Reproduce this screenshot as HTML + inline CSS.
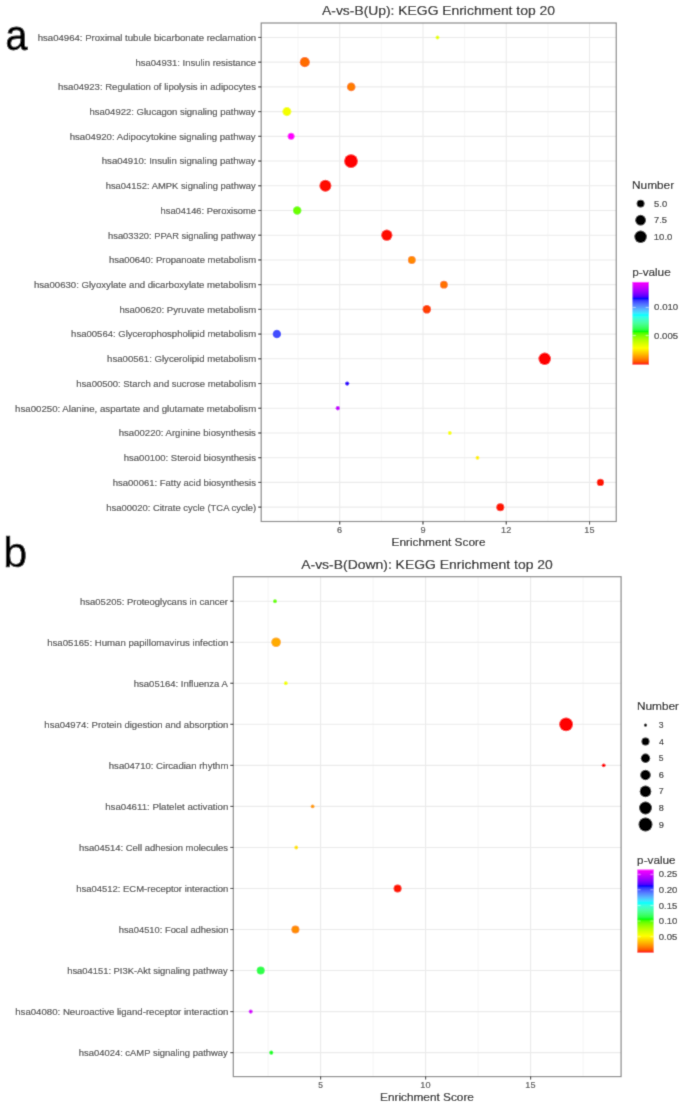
<!DOCTYPE html>
<html><head><meta charset="utf-8"><style>
html,body{margin:0;padding:0;background:#fff;}
svg{display:block;font-family:"Liberation Sans",sans-serif;}
</style></head><body>
<svg width="685" height="1107" viewBox="0 0 685 1107">
<defs><linearGradient id="ga" x1="0" y1="0" x2="0" y2="1"><stop offset="0.0000" stop-color="#ff00ff"/><stop offset="0.0167" stop-color="#f200ff"/><stop offset="0.0333" stop-color="#e400ff"/><stop offset="0.0500" stop-color="#d700ff"/><stop offset="0.0667" stop-color="#c900ff"/><stop offset="0.0833" stop-color="#ba00ff"/><stop offset="0.1000" stop-color="#ab00ff"/><stop offset="0.1167" stop-color="#9b00ff"/><stop offset="0.1333" stop-color="#8a00ff"/><stop offset="0.1500" stop-color="#7600ff"/><stop offset="0.1667" stop-color="#6000ff"/><stop offset="0.1833" stop-color="#4300ff"/><stop offset="0.2000" stop-color="#0000ff"/><stop offset="0.2167" stop-color="#2b2dff"/><stop offset="0.2333" stop-color="#3d45ff"/><stop offset="0.2500" stop-color="#485aff"/><stop offset="0.2667" stop-color="#506dff"/><stop offset="0.2833" stop-color="#5580ff"/><stop offset="0.3000" stop-color="#5792ff"/><stop offset="0.3167" stop-color="#57a4ff"/><stop offset="0.3333" stop-color="#55b6ff"/><stop offset="0.3500" stop-color="#4fc8ff"/><stop offset="0.3667" stop-color="#45dbff"/><stop offset="0.3833" stop-color="#34edff"/><stop offset="0.4000" stop-color="#00ffff"/><stop offset="0.4167" stop-color="#28ffef"/><stop offset="0.4333" stop-color="#36ffde"/><stop offset="0.4500" stop-color="#3effce"/><stop offset="0.4667" stop-color="#43ffbd"/><stop offset="0.4833" stop-color="#46ffad"/><stop offset="0.5000" stop-color="#46ff9c"/><stop offset="0.5167" stop-color="#44ff8a"/><stop offset="0.5333" stop-color="#40ff78"/><stop offset="0.5500" stop-color="#3aff65"/><stop offset="0.5667" stop-color="#31ff50"/><stop offset="0.5833" stop-color="#22ff36"/><stop offset="0.6000" stop-color="#00ff00"/><stop offset="0.6167" stop-color="#46ff00"/><stop offset="0.6333" stop-color="#63ff00"/><stop offset="0.6500" stop-color="#7aff00"/><stop offset="0.6667" stop-color="#8dff00"/><stop offset="0.6833" stop-color="#9eff00"/><stop offset="0.7000" stop-color="#aeff00"/><stop offset="0.7167" stop-color="#bdff00"/><stop offset="0.7333" stop-color="#cbff00"/><stop offset="0.7500" stop-color="#d9ff00"/><stop offset="0.7667" stop-color="#e6ff00"/><stop offset="0.7833" stop-color="#f3ff00"/><stop offset="0.8000" stop-color="#ffff00"/><stop offset="0.8167" stop-color="#fff000"/><stop offset="0.8333" stop-color="#ffe100"/><stop offset="0.8500" stop-color="#ffd100"/><stop offset="0.8667" stop-color="#ffc200"/><stop offset="0.8833" stop-color="#ffb200"/><stop offset="0.9000" stop-color="#ffa100"/><stop offset="0.9167" stop-color="#ff9100"/><stop offset="0.9333" stop-color="#ff7f00"/><stop offset="0.9500" stop-color="#ff6c00"/><stop offset="0.9667" stop-color="#ff5600"/><stop offset="0.9833" stop-color="#ff3b00"/><stop offset="1.0000" stop-color="#ff0000"/></linearGradient><linearGradient id="gb" x1="0" y1="0" x2="0" y2="1"><stop offset="0.0000" stop-color="#ff00ff"/><stop offset="0.0167" stop-color="#f200ff"/><stop offset="0.0333" stop-color="#e400ff"/><stop offset="0.0500" stop-color="#d700ff"/><stop offset="0.0667" stop-color="#c900ff"/><stop offset="0.0833" stop-color="#ba00ff"/><stop offset="0.1000" stop-color="#ab00ff"/><stop offset="0.1167" stop-color="#9b00ff"/><stop offset="0.1333" stop-color="#8a00ff"/><stop offset="0.1500" stop-color="#7600ff"/><stop offset="0.1667" stop-color="#6000ff"/><stop offset="0.1833" stop-color="#4300ff"/><stop offset="0.2000" stop-color="#0000ff"/><stop offset="0.2167" stop-color="#2b2dff"/><stop offset="0.2333" stop-color="#3d45ff"/><stop offset="0.2500" stop-color="#485aff"/><stop offset="0.2667" stop-color="#506dff"/><stop offset="0.2833" stop-color="#5580ff"/><stop offset="0.3000" stop-color="#5792ff"/><stop offset="0.3167" stop-color="#57a4ff"/><stop offset="0.3333" stop-color="#55b6ff"/><stop offset="0.3500" stop-color="#4fc8ff"/><stop offset="0.3667" stop-color="#45dbff"/><stop offset="0.3833" stop-color="#34edff"/><stop offset="0.4000" stop-color="#00ffff"/><stop offset="0.4167" stop-color="#28ffef"/><stop offset="0.4333" stop-color="#36ffde"/><stop offset="0.4500" stop-color="#3effce"/><stop offset="0.4667" stop-color="#43ffbd"/><stop offset="0.4833" stop-color="#46ffad"/><stop offset="0.5000" stop-color="#46ff9c"/><stop offset="0.5167" stop-color="#44ff8a"/><stop offset="0.5333" stop-color="#40ff78"/><stop offset="0.5500" stop-color="#3aff65"/><stop offset="0.5667" stop-color="#31ff50"/><stop offset="0.5833" stop-color="#22ff36"/><stop offset="0.6000" stop-color="#00ff00"/><stop offset="0.6167" stop-color="#46ff00"/><stop offset="0.6333" stop-color="#63ff00"/><stop offset="0.6500" stop-color="#7aff00"/><stop offset="0.6667" stop-color="#8dff00"/><stop offset="0.6833" stop-color="#9eff00"/><stop offset="0.7000" stop-color="#aeff00"/><stop offset="0.7167" stop-color="#bdff00"/><stop offset="0.7333" stop-color="#cbff00"/><stop offset="0.7500" stop-color="#d9ff00"/><stop offset="0.7667" stop-color="#e6ff00"/><stop offset="0.7833" stop-color="#f3ff00"/><stop offset="0.8000" stop-color="#ffff00"/><stop offset="0.8167" stop-color="#fff000"/><stop offset="0.8333" stop-color="#ffe100"/><stop offset="0.8500" stop-color="#ffd100"/><stop offset="0.8667" stop-color="#ffc200"/><stop offset="0.8833" stop-color="#ffb200"/><stop offset="0.9000" stop-color="#ffa100"/><stop offset="0.9167" stop-color="#ff9100"/><stop offset="0.9333" stop-color="#ff7f00"/><stop offset="0.9500" stop-color="#ff6c00"/><stop offset="0.9667" stop-color="#ff5600"/><stop offset="0.9833" stop-color="#ff3b00"/><stop offset="1.0000" stop-color="#ff0000"/></linearGradient><filter id="bl" x="0" y="0" width="100%" height="100%" filterUnits="userSpaceOnUse"><feConvolveMatrix order="3" kernelMatrix="0.0324 0.1800 0.0324 0.1800 1.0000 0.1800 0.0324 0.1800 0.0324" divisor="1.8496" edgeMode="duplicate" preserveAlpha="false"/></filter></defs>
<g filter="url(#bl)">
<rect width="685" height="1107" fill="#fff"/>
<line x1="298.06" y1="23.00" x2="298.06" y2="521.50" stroke="#f4f4f4" stroke-width="0.80"/>
<line x1="381.34" y1="23.00" x2="381.34" y2="521.50" stroke="#f4f4f4" stroke-width="0.80"/>
<line x1="464.62" y1="23.00" x2="464.62" y2="521.50" stroke="#f4f4f4" stroke-width="0.80"/>
<line x1="547.90" y1="23.00" x2="547.90" y2="521.50" stroke="#f4f4f4" stroke-width="0.80"/>
<line x1="339.70" y1="23.00" x2="339.70" y2="521.50" stroke="#ebebeb" stroke-width="1.10"/>
<line x1="422.98" y1="23.00" x2="422.98" y2="521.50" stroke="#ebebeb" stroke-width="1.10"/>
<line x1="506.26" y1="23.00" x2="506.26" y2="521.50" stroke="#ebebeb" stroke-width="1.10"/>
<line x1="589.54" y1="23.00" x2="589.54" y2="521.50" stroke="#ebebeb" stroke-width="1.10"/>
<line x1="261.20" y1="37.45" x2="616.25" y2="37.45" stroke="#ebebeb" stroke-width="1.10"/>
<line x1="261.20" y1="62.17" x2="616.25" y2="62.17" stroke="#ebebeb" stroke-width="1.10"/>
<line x1="261.20" y1="86.89" x2="616.25" y2="86.89" stroke="#ebebeb" stroke-width="1.10"/>
<line x1="261.20" y1="111.61" x2="616.25" y2="111.61" stroke="#ebebeb" stroke-width="1.10"/>
<line x1="261.20" y1="136.33" x2="616.25" y2="136.33" stroke="#ebebeb" stroke-width="1.10"/>
<line x1="261.20" y1="161.05" x2="616.25" y2="161.05" stroke="#ebebeb" stroke-width="1.10"/>
<line x1="261.20" y1="185.77" x2="616.25" y2="185.77" stroke="#ebebeb" stroke-width="1.10"/>
<line x1="261.20" y1="210.49" x2="616.25" y2="210.49" stroke="#ebebeb" stroke-width="1.10"/>
<line x1="261.20" y1="235.21" x2="616.25" y2="235.21" stroke="#ebebeb" stroke-width="1.10"/>
<line x1="261.20" y1="259.93" x2="616.25" y2="259.93" stroke="#ebebeb" stroke-width="1.10"/>
<line x1="261.20" y1="284.65" x2="616.25" y2="284.65" stroke="#ebebeb" stroke-width="1.10"/>
<line x1="261.20" y1="309.37" x2="616.25" y2="309.37" stroke="#ebebeb" stroke-width="1.10"/>
<line x1="261.20" y1="334.09" x2="616.25" y2="334.09" stroke="#ebebeb" stroke-width="1.10"/>
<line x1="261.20" y1="358.81" x2="616.25" y2="358.81" stroke="#ebebeb" stroke-width="1.10"/>
<line x1="261.20" y1="383.53" x2="616.25" y2="383.53" stroke="#ebebeb" stroke-width="1.10"/>
<line x1="261.20" y1="408.25" x2="616.25" y2="408.25" stroke="#ebebeb" stroke-width="1.10"/>
<line x1="261.20" y1="432.97" x2="616.25" y2="432.97" stroke="#ebebeb" stroke-width="1.10"/>
<line x1="261.20" y1="457.69" x2="616.25" y2="457.69" stroke="#ebebeb" stroke-width="1.10"/>
<line x1="261.20" y1="482.41" x2="616.25" y2="482.41" stroke="#ebebeb" stroke-width="1.10"/>
<line x1="261.20" y1="507.13" x2="616.25" y2="507.13" stroke="#ebebeb" stroke-width="1.10"/>
<circle cx="437.50" cy="37.45" r="1.95" fill="#e8ff00"/>
<circle cx="304.80" cy="62.17" r="5.05" fill="#ff6c00"/>
<circle cx="351.20" cy="86.89" r="4.30" fill="#ff7d00"/>
<circle cx="286.90" cy="111.61" r="4.55" fill="#f4ff00"/>
<circle cx="291.10" cy="136.33" r="3.50" fill="#ff00ff"/>
<circle cx="351.00" cy="161.05" r="6.90" fill="#ff0000"/>
<circle cx="325.40" cy="185.77" r="6.00" fill="#ff0f00"/>
<circle cx="297.20" cy="210.49" r="4.25" fill="#6dff00"/>
<circle cx="386.80" cy="235.21" r="5.60" fill="#ff0f00"/>
<circle cx="411.80" cy="259.93" r="3.95" fill="#ff8800"/>
<circle cx="443.90" cy="284.65" r="3.90" fill="#ff7200"/>
<circle cx="426.80" cy="309.37" r="4.25" fill="#ff4100"/>
<circle cx="276.90" cy="334.09" r="4.25" fill="#424eff"/>
<circle cx="544.70" cy="358.81" r="6.25" fill="#ff0000"/>
<circle cx="347.20" cy="383.53" r="2.15" fill="#3300ff"/>
<circle cx="337.80" cy="408.25" r="2.15" fill="#c600ff"/>
<circle cx="449.80" cy="432.97" r="1.95" fill="#f8ff00"/>
<circle cx="477.50" cy="457.69" r="1.95" fill="#fff100"/>
<circle cx="600.40" cy="482.41" r="3.65" fill="#ff1900"/>
<circle cx="500.30" cy="507.13" r="4.00" fill="#ff1900"/>
<rect x="261.20" y="23.00" width="355.05" height="498.50" fill="none" stroke="#868686" stroke-width="1.2"/>
<line x1="258.20" y1="37.45" x2="261.20" y2="37.45" stroke="#222222" stroke-width="1.10"/>
<text x="37.74" y="40.85" font-size="8.93" fill="#444444" stroke="#444444" stroke-width="0.15" textLength="218.46" lengthAdjust="spacingAndGlyphs">hsa04964: Proximal tubule bicarbonate reclamation</text>
<line x1="258.20" y1="62.17" x2="261.20" y2="62.17" stroke="#222222" stroke-width="1.10"/>
<text x="135.50" y="65.57" font-size="8.93" fill="#444444" stroke="#444444" stroke-width="0.15" textLength="120.48" lengthAdjust="spacingAndGlyphs">hsa04931: Insulin resistance</text>
<line x1="258.20" y1="86.89" x2="261.20" y2="86.89" stroke="#222222" stroke-width="1.10"/>
<text x="57.99" y="90.29" font-size="8.93" fill="#444444" stroke="#444444" stroke-width="0.15" textLength="197.95" lengthAdjust="spacingAndGlyphs">hsa04923: Regulation of lipolysis in adipocytes</text>
<line x1="258.20" y1="111.61" x2="261.20" y2="111.61" stroke="#222222" stroke-width="1.10"/>
<text x="89.48" y="115.01" font-size="8.93" fill="#444444" stroke="#444444" stroke-width="0.15" textLength="166.14" lengthAdjust="spacingAndGlyphs">hsa04922: Glucagon signaling pathway</text>
<line x1="258.20" y1="136.33" x2="261.20" y2="136.33" stroke="#222222" stroke-width="1.10"/>
<text x="69.73" y="139.73" font-size="8.93" fill="#444444" stroke="#444444" stroke-width="0.15" textLength="185.85" lengthAdjust="spacingAndGlyphs">hsa04920: Adipocytokine signaling pathway</text>
<line x1="258.20" y1="161.05" x2="261.20" y2="161.05" stroke="#222222" stroke-width="1.10"/>
<text x="101.77" y="164.45" font-size="8.93" fill="#444444" stroke="#444444" stroke-width="0.15" textLength="153.85" lengthAdjust="spacingAndGlyphs">hsa04910: Insulin signaling pathway</text>
<line x1="258.20" y1="185.77" x2="261.20" y2="185.77" stroke="#222222" stroke-width="1.10"/>
<text x="105.70" y="189.17" font-size="8.93" fill="#444444" stroke="#444444" stroke-width="0.15" textLength="149.91" lengthAdjust="spacingAndGlyphs">hsa04152: AMPK signaling pathway</text>
<line x1="258.20" y1="210.49" x2="261.20" y2="210.49" stroke="#222222" stroke-width="1.10"/>
<text x="160.56" y="213.89" font-size="8.93" fill="#444444" stroke="#444444" stroke-width="0.15" textLength="95.40" lengthAdjust="spacingAndGlyphs">hsa04146: Peroxisome</text>
<line x1="258.20" y1="235.21" x2="261.20" y2="235.21" stroke="#222222" stroke-width="1.10"/>
<text x="108.10" y="238.61" font-size="8.93" fill="#444444" stroke="#444444" stroke-width="0.15" textLength="147.50" lengthAdjust="spacingAndGlyphs">hsa03320: PPAR signaling pathway</text>
<line x1="258.20" y1="259.93" x2="261.20" y2="259.93" stroke="#222222" stroke-width="1.10"/>
<text x="108.93" y="263.33" font-size="8.93" fill="#444444" stroke="#444444" stroke-width="0.15" textLength="147.24" lengthAdjust="spacingAndGlyphs">hsa00640: Propanoate metabolism</text>
<line x1="258.20" y1="284.65" x2="261.20" y2="284.65" stroke="#222222" stroke-width="1.10"/>
<text x="33.94" y="288.05" font-size="8.93" fill="#444444" stroke="#444444" stroke-width="0.15" textLength="222.28" lengthAdjust="spacingAndGlyphs">hsa00630: Glyoxylate and dicarboxylate metabolism</text>
<line x1="258.20" y1="309.37" x2="261.20" y2="309.37" stroke="#222222" stroke-width="1.10"/>
<text x="119.45" y="312.77" font-size="8.93" fill="#444444" stroke="#444444" stroke-width="0.15" textLength="136.73" lengthAdjust="spacingAndGlyphs">hsa00620: Pyruvate metabolism</text>
<line x1="258.20" y1="334.09" x2="261.20" y2="334.09" stroke="#222222" stroke-width="1.10"/>
<text x="71.08" y="337.49" font-size="8.93" fill="#444444" stroke="#444444" stroke-width="0.15" textLength="185.10" lengthAdjust="spacingAndGlyphs">hsa00564: Glycerophospholipid metabolism</text>
<line x1="258.20" y1="358.81" x2="261.20" y2="358.81" stroke="#222222" stroke-width="1.10"/>
<text x="107.12" y="362.21" font-size="8.93" fill="#444444" stroke="#444444" stroke-width="0.15" textLength="149.10" lengthAdjust="spacingAndGlyphs">hsa00561: Glycerolipid metabolism</text>
<line x1="258.20" y1="383.53" x2="261.20" y2="383.53" stroke="#222222" stroke-width="1.10"/>
<text x="76.35" y="386.93" font-size="8.93" fill="#444444" stroke="#444444" stroke-width="0.15" textLength="179.83" lengthAdjust="spacingAndGlyphs">hsa00500: Starch and sucrose metabolism</text>
<line x1="258.20" y1="408.25" x2="261.20" y2="408.25" stroke="#222222" stroke-width="1.10"/>
<text x="15.12" y="411.65" font-size="8.93" fill="#444444" stroke="#444444" stroke-width="0.15" textLength="241.07" lengthAdjust="spacingAndGlyphs">hsa00250: Alanine, aspartate and glutamate metabolism</text>
<line x1="258.20" y1="432.97" x2="261.20" y2="432.97" stroke="#222222" stroke-width="1.10"/>
<text x="118.78" y="436.37" font-size="8.93" fill="#444444" stroke="#444444" stroke-width="0.15" textLength="137.14" lengthAdjust="spacingAndGlyphs">hsa00220: Arginine biosynthesis</text>
<line x1="258.20" y1="457.69" x2="261.20" y2="457.69" stroke="#222222" stroke-width="1.10"/>
<text x="123.79" y="461.09" font-size="8.93" fill="#444444" stroke="#444444" stroke-width="0.15" textLength="132.12" lengthAdjust="spacingAndGlyphs">hsa00100: Steroid biosynthesis</text>
<line x1="258.20" y1="482.41" x2="261.20" y2="482.41" stroke="#222222" stroke-width="1.10"/>
<text x="112.76" y="485.81" font-size="8.93" fill="#444444" stroke="#444444" stroke-width="0.15" textLength="143.17" lengthAdjust="spacingAndGlyphs">hsa00061: Fatty acid biosynthesis</text>
<line x1="258.20" y1="507.13" x2="261.20" y2="507.13" stroke="#222222" stroke-width="1.10"/>
<text x="106.20" y="510.53" font-size="8.93" fill="#444444" stroke="#444444" stroke-width="0.15" textLength="150.02" lengthAdjust="spacingAndGlyphs">hsa00020: Citrate cycle (TCA cycle)</text>
<line x1="339.70" y1="521.50" x2="339.70" y2="524.50" stroke="#222222" stroke-width="1.10"/>
<text x="337.12" y="533.20" font-size="8.93" fill="#444444" stroke="#444444" stroke-width="0.15" textLength="5.09" lengthAdjust="spacingAndGlyphs">6</text>
<line x1="422.98" y1="521.50" x2="422.98" y2="524.50" stroke="#222222" stroke-width="1.10"/>
<text x="420.44" y="533.20" font-size="8.93" fill="#444444" stroke="#444444" stroke-width="0.15" textLength="5.09" lengthAdjust="spacingAndGlyphs">9</text>
<line x1="506.26" y1="521.50" x2="506.26" y2="524.50" stroke="#222222" stroke-width="1.10"/>
<text x="501.12" y="533.20" font-size="8.93" fill="#444444" stroke="#444444" stroke-width="0.15" textLength="10.08" lengthAdjust="spacingAndGlyphs">12</text>
<line x1="589.54" y1="521.50" x2="589.54" y2="524.50" stroke="#222222" stroke-width="1.10"/>
<text x="584.33" y="533.20" font-size="8.93" fill="#444444" stroke="#444444" stroke-width="0.15" textLength="10.12" lengthAdjust="spacingAndGlyphs">15</text>
<text x="391.54" y="545.50" font-size="11.24" fill="#000" stroke="#000" stroke-width="0.15" textLength="93.94" lengthAdjust="spacingAndGlyphs">Enrichment Score</text>
<text x="322.02" y="14.70" font-size="13.46" fill="#000" stroke="#000" stroke-width="0.15" textLength="232.88" lengthAdjust="spacingAndGlyphs">A-vs-B(Up): KEGG Enrichment top 20</text>
<line x1="268.10" y1="576.70" x2="268.10" y2="1076.60" stroke="#f4f4f4" stroke-width="0.80"/>
<line x1="373.10" y1="576.70" x2="373.10" y2="1076.60" stroke="#f4f4f4" stroke-width="0.80"/>
<line x1="478.10" y1="576.70" x2="478.10" y2="1076.60" stroke="#f4f4f4" stroke-width="0.80"/>
<line x1="583.10" y1="576.70" x2="583.10" y2="1076.60" stroke="#f4f4f4" stroke-width="0.80"/>
<line x1="320.60" y1="576.70" x2="320.60" y2="1076.60" stroke="#ebebeb" stroke-width="1.10"/>
<line x1="425.60" y1="576.70" x2="425.60" y2="1076.60" stroke="#ebebeb" stroke-width="1.10"/>
<line x1="530.60" y1="576.70" x2="530.60" y2="1076.60" stroke="#ebebeb" stroke-width="1.10"/>
<line x1="233.30" y1="601.20" x2="621.10" y2="601.20" stroke="#ebebeb" stroke-width="1.10"/>
<line x1="233.30" y1="642.24" x2="621.10" y2="642.24" stroke="#ebebeb" stroke-width="1.10"/>
<line x1="233.30" y1="683.28" x2="621.10" y2="683.28" stroke="#ebebeb" stroke-width="1.10"/>
<line x1="233.30" y1="724.32" x2="621.10" y2="724.32" stroke="#ebebeb" stroke-width="1.10"/>
<line x1="233.30" y1="765.36" x2="621.10" y2="765.36" stroke="#ebebeb" stroke-width="1.10"/>
<line x1="233.30" y1="806.40" x2="621.10" y2="806.40" stroke="#ebebeb" stroke-width="1.10"/>
<line x1="233.30" y1="847.44" x2="621.10" y2="847.44" stroke="#ebebeb" stroke-width="1.10"/>
<line x1="233.30" y1="888.48" x2="621.10" y2="888.48" stroke="#ebebeb" stroke-width="1.10"/>
<line x1="233.30" y1="929.52" x2="621.10" y2="929.52" stroke="#ebebeb" stroke-width="1.10"/>
<line x1="233.30" y1="970.56" x2="621.10" y2="970.56" stroke="#ebebeb" stroke-width="1.10"/>
<line x1="233.30" y1="1011.60" x2="621.10" y2="1011.60" stroke="#ebebeb" stroke-width="1.10"/>
<line x1="233.30" y1="1052.64" x2="621.10" y2="1052.64" stroke="#ebebeb" stroke-width="1.10"/>
<circle cx="275.00" cy="601.20" r="1.95" fill="#6dff00"/>
<circle cx="276.10" cy="642.24" r="4.85" fill="#ffab00"/>
<circle cx="285.80" cy="683.28" r="1.95" fill="#f4ff00"/>
<circle cx="566.10" cy="724.32" r="6.90" fill="#ff0000"/>
<circle cx="603.70" cy="765.36" r="1.95" fill="#ff0000"/>
<circle cx="312.60" cy="806.40" r="1.95" fill="#ffa100"/>
<circle cx="296.30" cy="847.44" r="1.95" fill="#ffe400"/>
<circle cx="397.60" cy="888.48" r="4.05" fill="#ff1900"/>
<circle cx="295.40" cy="929.52" r="4.05" fill="#ff8d00"/>
<circle cx="260.70" cy="970.56" r="4.05" fill="#2eff4b"/>
<circle cx="250.70" cy="1011.60" r="2.05" fill="#d700ff"/>
<circle cx="271.30" cy="1052.64" r="2.05" fill="#1aff28"/>
<rect x="233.30" y="576.70" width="387.80" height="499.90" fill="none" stroke="#868686" stroke-width="1.2"/>
<line x1="230.30" y1="601.20" x2="233.30" y2="601.20" stroke="#222222" stroke-width="1.10"/>
<text x="80.12" y="604.60" font-size="8.93" fill="#444444" stroke="#444444" stroke-width="0.15" textLength="147.78" lengthAdjust="spacingAndGlyphs">hsa05205: Proteoglycans in cancer</text>
<line x1="230.30" y1="642.24" x2="233.30" y2="642.24" stroke="#222222" stroke-width="1.10"/>
<text x="47.23" y="645.64" font-size="8.93" fill="#444444" stroke="#444444" stroke-width="0.15" textLength="181.14" lengthAdjust="spacingAndGlyphs">hsa05165: Human papillomavirus infection</text>
<line x1="230.30" y1="683.28" x2="233.30" y2="683.28" stroke="#222222" stroke-width="1.10"/>
<text x="133.80" y="686.68" font-size="8.93" fill="#444444" stroke="#444444" stroke-width="0.15" textLength="94.02" lengthAdjust="spacingAndGlyphs">hsa05164: Influenza A</text>
<line x1="230.30" y1="724.32" x2="233.30" y2="724.32" stroke="#222222" stroke-width="1.10"/>
<text x="44.33" y="727.72" font-size="8.93" fill="#444444" stroke="#444444" stroke-width="0.15" textLength="184.06" lengthAdjust="spacingAndGlyphs">hsa04974: Protein digestion and absorption</text>
<line x1="230.30" y1="765.36" x2="233.30" y2="765.36" stroke="#222222" stroke-width="1.10"/>
<text x="108.79" y="768.76" font-size="8.93" fill="#444444" stroke="#444444" stroke-width="0.15" textLength="119.61" lengthAdjust="spacingAndGlyphs">hsa04710: Circadian rhythm</text>
<line x1="230.30" y1="806.40" x2="233.30" y2="806.40" stroke="#222222" stroke-width="1.10"/>
<text x="105.16" y="809.80" font-size="8.93" fill="#444444" stroke="#444444" stroke-width="0.15" textLength="123.25" lengthAdjust="spacingAndGlyphs">hsa04611: Platelet activation</text>
<line x1="230.30" y1="847.44" x2="233.30" y2="847.44" stroke="#222222" stroke-width="1.10"/>
<text x="79.03" y="850.84" font-size="8.93" fill="#444444" stroke="#444444" stroke-width="0.15" textLength="149.09" lengthAdjust="spacingAndGlyphs">hsa04514: Cell adhesion molecules</text>
<line x1="230.30" y1="888.48" x2="233.30" y2="888.48" stroke="#222222" stroke-width="1.10"/>
<text x="76.17" y="891.88" font-size="8.93" fill="#444444" stroke="#444444" stroke-width="0.15" textLength="152.20" lengthAdjust="spacingAndGlyphs">hsa04512: ECM-receptor interaction</text>
<line x1="230.30" y1="929.52" x2="233.30" y2="929.52" stroke="#222222" stroke-width="1.10"/>
<text x="118.70" y="932.92" font-size="8.93" fill="#444444" stroke="#444444" stroke-width="0.15" textLength="109.68" lengthAdjust="spacingAndGlyphs">hsa04510: Focal adhesion</text>
<line x1="230.30" y1="970.56" x2="233.30" y2="970.56" stroke="#222222" stroke-width="1.10"/>
<text x="67.21" y="973.96" font-size="8.93" fill="#444444" stroke="#444444" stroke-width="0.15" textLength="160.57" lengthAdjust="spacingAndGlyphs">hsa04151: PI3K-Akt signaling pathway</text>
<line x1="230.30" y1="1011.60" x2="233.30" y2="1011.60" stroke="#222222" stroke-width="1.10"/>
<text x="15.24" y="1015.00" font-size="8.93" fill="#444444" stroke="#444444" stroke-width="0.15" textLength="213.14" lengthAdjust="spacingAndGlyphs">hsa04080: Neuroactive ligand-receptor interaction</text>
<line x1="230.30" y1="1052.64" x2="233.30" y2="1052.64" stroke="#222222" stroke-width="1.10"/>
<text x="78.78" y="1056.04" font-size="8.93" fill="#444444" stroke="#444444" stroke-width="0.15" textLength="149.03" lengthAdjust="spacingAndGlyphs">hsa04024: cAMP signaling pathway</text>
<line x1="320.60" y1="1076.60" x2="320.60" y2="1079.60" stroke="#222222" stroke-width="1.10"/>
<text x="318.26" y="1088.30" font-size="8.93" fill="#444444" stroke="#444444" stroke-width="0.15" textLength="4.68" lengthAdjust="spacingAndGlyphs">5</text>
<line x1="425.60" y1="1076.60" x2="425.60" y2="1079.60" stroke="#222222" stroke-width="1.10"/>
<text x="420.30" y="1088.30" font-size="8.93" fill="#444444" stroke="#444444" stroke-width="0.15" textLength="10.26" lengthAdjust="spacingAndGlyphs">10</text>
<line x1="530.60" y1="1076.60" x2="530.60" y2="1079.60" stroke="#222222" stroke-width="1.10"/>
<text x="525.39" y="1088.30" font-size="8.93" fill="#444444" stroke="#444444" stroke-width="0.15" textLength="10.12" lengthAdjust="spacingAndGlyphs">15</text>
<text x="380.01" y="1100.70" font-size="11.24" fill="#000" stroke="#000" stroke-width="0.15" textLength="93.94" lengthAdjust="spacingAndGlyphs">Enrichment Score</text>
<text x="301.21" y="568.70" font-size="13.46" fill="#000" stroke="#000" stroke-width="0.15" textLength="251.59" lengthAdjust="spacingAndGlyphs">A-vs-B(Down): KEGG Enrichment top 20</text>
<text x="632.05" y="188.90" font-size="11.08" fill="#000" stroke="#000" stroke-width="0.15" textLength="42.05" lengthAdjust="spacingAndGlyphs">Number</text>
<circle cx="640.60" cy="203.60" r="3.95" fill="#000"/>
<text x="654.12" y="206.65" font-size="9.06" fill="#1a1a1a" stroke="#1a1a1a" stroke-width="0.15" textLength="13.11" lengthAdjust="spacingAndGlyphs">5.0</text>
<circle cx="640.60" cy="220.20" r="5.35" fill="#000"/>
<text x="654.03" y="223.25" font-size="9.06" fill="#1a1a1a" stroke="#1a1a1a" stroke-width="0.15" textLength="13.03" lengthAdjust="spacingAndGlyphs">7.5</text>
<circle cx="640.60" cy="236.80" r="6.20" fill="#000"/>
<text x="653.78" y="239.85" font-size="9.06" fill="#1a1a1a" stroke="#1a1a1a" stroke-width="0.15" textLength="18.59" lengthAdjust="spacingAndGlyphs">10.0</text>
<text x="632.24" y="276.10" font-size="11.08" fill="#000" stroke="#000" stroke-width="0.15" textLength="38.43" lengthAdjust="spacingAndGlyphs">p-value</text>
<rect x="632.40" y="281.90" width="16.60" height="82.70" fill="url(#ga)"/>
<line x1="632.40" y1="307.40" x2="635.72" y2="307.40" stroke="rgba(255,255,255,0.7)" stroke-width="0.70"/>
<line x1="645.68" y1="307.40" x2="649.00" y2="307.40" stroke="rgba(255,255,255,0.7)" stroke-width="0.70"/>
<text x="654.11" y="310.45" font-size="9.06" fill="#1a1a1a" stroke="#1a1a1a" stroke-width="0.15" textLength="24.09" lengthAdjust="spacingAndGlyphs">0.010</text>
<line x1="632.40" y1="335.50" x2="635.72" y2="335.50" stroke="rgba(255,255,255,0.7)" stroke-width="0.70"/>
<line x1="645.68" y1="335.50" x2="649.00" y2="335.50" stroke="rgba(255,255,255,0.7)" stroke-width="0.70"/>
<text x="654.12" y="338.55" font-size="9.06" fill="#1a1a1a" stroke="#1a1a1a" stroke-width="0.15" textLength="23.96" lengthAdjust="spacingAndGlyphs">0.005</text>
<text x="636.95" y="710.00" font-size="11.08" fill="#000" stroke="#000" stroke-width="0.15" textLength="42.05" lengthAdjust="spacingAndGlyphs">Number</text>
<circle cx="645.50" cy="725.10" r="1.70" fill="#000"/>
<text x="658.85" y="728.15" font-size="9.06" fill="#1a1a1a" stroke="#1a1a1a" stroke-width="0.15" textLength="4.81" lengthAdjust="spacingAndGlyphs">3</text>
<circle cx="645.50" cy="741.60" r="4.00" fill="#000"/>
<text x="659.02" y="744.65" font-size="9.06" fill="#1a1a1a" stroke="#1a1a1a" stroke-width="0.15" textLength="4.94" lengthAdjust="spacingAndGlyphs">4</text>
<circle cx="645.50" cy="758.30" r="4.70" fill="#000"/>
<text x="658.86" y="761.35" font-size="9.06" fill="#1a1a1a" stroke="#1a1a1a" stroke-width="0.15" textLength="4.76" lengthAdjust="spacingAndGlyphs">5</text>
<circle cx="645.50" cy="774.90" r="5.25" fill="#000"/>
<text x="658.74" y="777.95" font-size="9.06" fill="#1a1a1a" stroke="#1a1a1a" stroke-width="0.15" textLength="5.16" lengthAdjust="spacingAndGlyphs">6</text>
<circle cx="645.50" cy="791.40" r="5.80" fill="#000"/>
<text x="658.76" y="794.45" font-size="9.06" fill="#1a1a1a" stroke="#1a1a1a" stroke-width="0.15" textLength="4.91" lengthAdjust="spacingAndGlyphs">7</text>
<circle cx="645.50" cy="808.00" r="6.40" fill="#000"/>
<text x="658.84" y="811.05" font-size="9.06" fill="#1a1a1a" stroke="#1a1a1a" stroke-width="0.15" textLength="5.06" lengthAdjust="spacingAndGlyphs">8</text>
<circle cx="645.50" cy="824.50" r="6.95" fill="#000"/>
<text x="658.78" y="827.55" font-size="9.06" fill="#1a1a1a" stroke="#1a1a1a" stroke-width="0.15" textLength="5.16" lengthAdjust="spacingAndGlyphs">9</text>
<text x="637.14" y="864.30" font-size="11.08" fill="#000" stroke="#000" stroke-width="0.15" textLength="38.43" lengthAdjust="spacingAndGlyphs">p-value</text>
<rect x="637.30" y="869.50" width="16.40" height="83.10" fill="url(#gb)"/>
<line x1="637.30" y1="874.30" x2="640.58" y2="874.30" stroke="rgba(255,255,255,0.7)" stroke-width="0.70"/>
<line x1="650.42" y1="874.30" x2="653.70" y2="874.30" stroke="rgba(255,255,255,0.7)" stroke-width="0.70"/>
<text x="658.82" y="877.35" font-size="9.06" fill="#1a1a1a" stroke="#1a1a1a" stroke-width="0.15" textLength="18.51" lengthAdjust="spacingAndGlyphs">0.25</text>
<line x1="637.30" y1="889.80" x2="640.58" y2="889.80" stroke="rgba(255,255,255,0.7)" stroke-width="0.70"/>
<line x1="650.42" y1="889.80" x2="653.70" y2="889.80" stroke="rgba(255,255,255,0.7)" stroke-width="0.70"/>
<text x="658.82" y="892.85" font-size="9.06" fill="#1a1a1a" stroke="#1a1a1a" stroke-width="0.15" textLength="18.64" lengthAdjust="spacingAndGlyphs">0.20</text>
<line x1="637.30" y1="905.60" x2="640.58" y2="905.60" stroke="rgba(255,255,255,0.7)" stroke-width="0.70"/>
<line x1="650.42" y1="905.60" x2="653.70" y2="905.60" stroke="rgba(255,255,255,0.7)" stroke-width="0.70"/>
<text x="658.82" y="908.65" font-size="9.06" fill="#1a1a1a" stroke="#1a1a1a" stroke-width="0.15" textLength="18.51" lengthAdjust="spacingAndGlyphs">0.15</text>
<line x1="637.30" y1="921.00" x2="640.58" y2="921.00" stroke="rgba(255,255,255,0.7)" stroke-width="0.70"/>
<line x1="650.42" y1="921.00" x2="653.70" y2="921.00" stroke="rgba(255,255,255,0.7)" stroke-width="0.70"/>
<text x="658.82" y="924.05" font-size="9.06" fill="#1a1a1a" stroke="#1a1a1a" stroke-width="0.15" textLength="18.64" lengthAdjust="spacingAndGlyphs">0.10</text>
<line x1="637.30" y1="936.80" x2="640.58" y2="936.80" stroke="rgba(255,255,255,0.7)" stroke-width="0.70"/>
<line x1="650.42" y1="936.80" x2="653.70" y2="936.80" stroke="rgba(255,255,255,0.7)" stroke-width="0.70"/>
<text x="658.82" y="939.85" font-size="9.06" fill="#1a1a1a" stroke="#1a1a1a" stroke-width="0.15" textLength="18.51" lengthAdjust="spacingAndGlyphs">0.05</text>
<text x="0" y="50.3" font-size="42.5" fill="#000" stroke="#000" stroke-width="0.9" transform="translate(5.4,0) scale(0.93,1)">a</text>
<text x="3.3" y="567.3" font-size="43" fill="#000" stroke="#000" stroke-width="0.5">b</text>
</g>
</svg></body></html>
